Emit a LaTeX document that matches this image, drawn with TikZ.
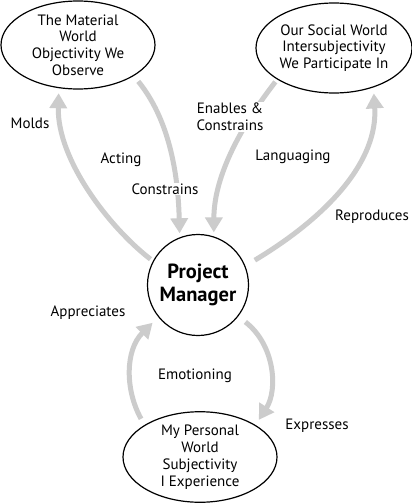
\documentclass[tikz,border=0pt]{standalone}
\usepackage{fontspec}
\setmainfont{PT Sans}
\usetikzlibrary{arrows.meta,shapes.geometric}
\begin{document}
\begin{tikzpicture}[x=1pt,y=-1pt,
  world/.style={draw=black,line width=1.2pt,ellipse,inner sep=0pt,align=center,
    font=\fontsize{15}{16.8}\selectfont},
  pmnode/.style={draw=black,line width=1.2pt,circle,inner sep=0pt,align=center,
    minimum size=101pt,font=\fontsize{20.5}{23.5}\selectfont\bfseries},
  flow/.style={draw=gray!40,line width=5pt,-{Triangle[length=15pt,width=17pt]}},
  lbl/.style={font=\fontsize{15}{17}\selectfont,align=center,inner sep=1pt}]
\useasboundingbox (0,0) rectangle (412,503);
\fill[white] (0,0) rectangle (412,503);
\node[world,minimum width=154pt,minimum height=88pt] (mat) at (78,45)
  {The Material\\World\\Objectivity We\\Observe};
\node[world,minimum width=156pt,minimum height=90pt] (soc) at (334,48)
  {Our Social World\\Intersubjectivity\\We Participate In};
\node[pmnode] (pm) at (198,285) {Project\\Manager};
\node[world,minimum width=154pt,minimum height=87pt] (per) at (200,457)
  {My Personal\\World\\Subjectivity\\I Experience};
% connectors
\draw[flow,shorten <=3pt,shorten >=5pt] (pm.152) .. controls (110,228) and (57,160) .. (mat.-114);
\draw[flow,shorten <=7pt,shorten >=4pt] (mat.-29) .. controls (168,118) and (178,170) .. (pm.111);
\draw[flow,shorten <=3pt,shorten >=4pt] (soc.-151) .. controls (242,125) and (214,175) .. (pm.72);
\draw[flow,shorten <=11pt,shorten >=6pt] (pm.22) .. controls (330,215) and (378,160) .. (soc.-45);
\draw[flow,shorten <=7pt,shorten >=8pt] (per.150) .. controls (125,390) and (125,350) .. (pm.-141);
\draw[flow,shorten <=9pt,shorten >=6pt] (pm.-38) .. controls (275,345) and (278,390) .. (per.30);
% labels
\node[lbl] (lmolds) at (30,123) {Molds};
\node[lbl] (lacting) at (121,160) {Acting};
\node[lbl,fill=white] (lcons) at (165,189) {Constrains};
\node[lbl,fill=white] (lenab) at (230,117) {Enables \&\\Constrains};
\node[lbl] (llang) at (293,157) {Languaging};
\node[lbl] (lrepr) at (372,217) {Reproduces};
\node[lbl] (lappr) at (88,313) {Appreciates};
\node[lbl] (lemot) at (195,376) {Emotioning};
\node[lbl] (lexpr) at (317,426) {Expresses};
\end{tikzpicture}
\end{document}
